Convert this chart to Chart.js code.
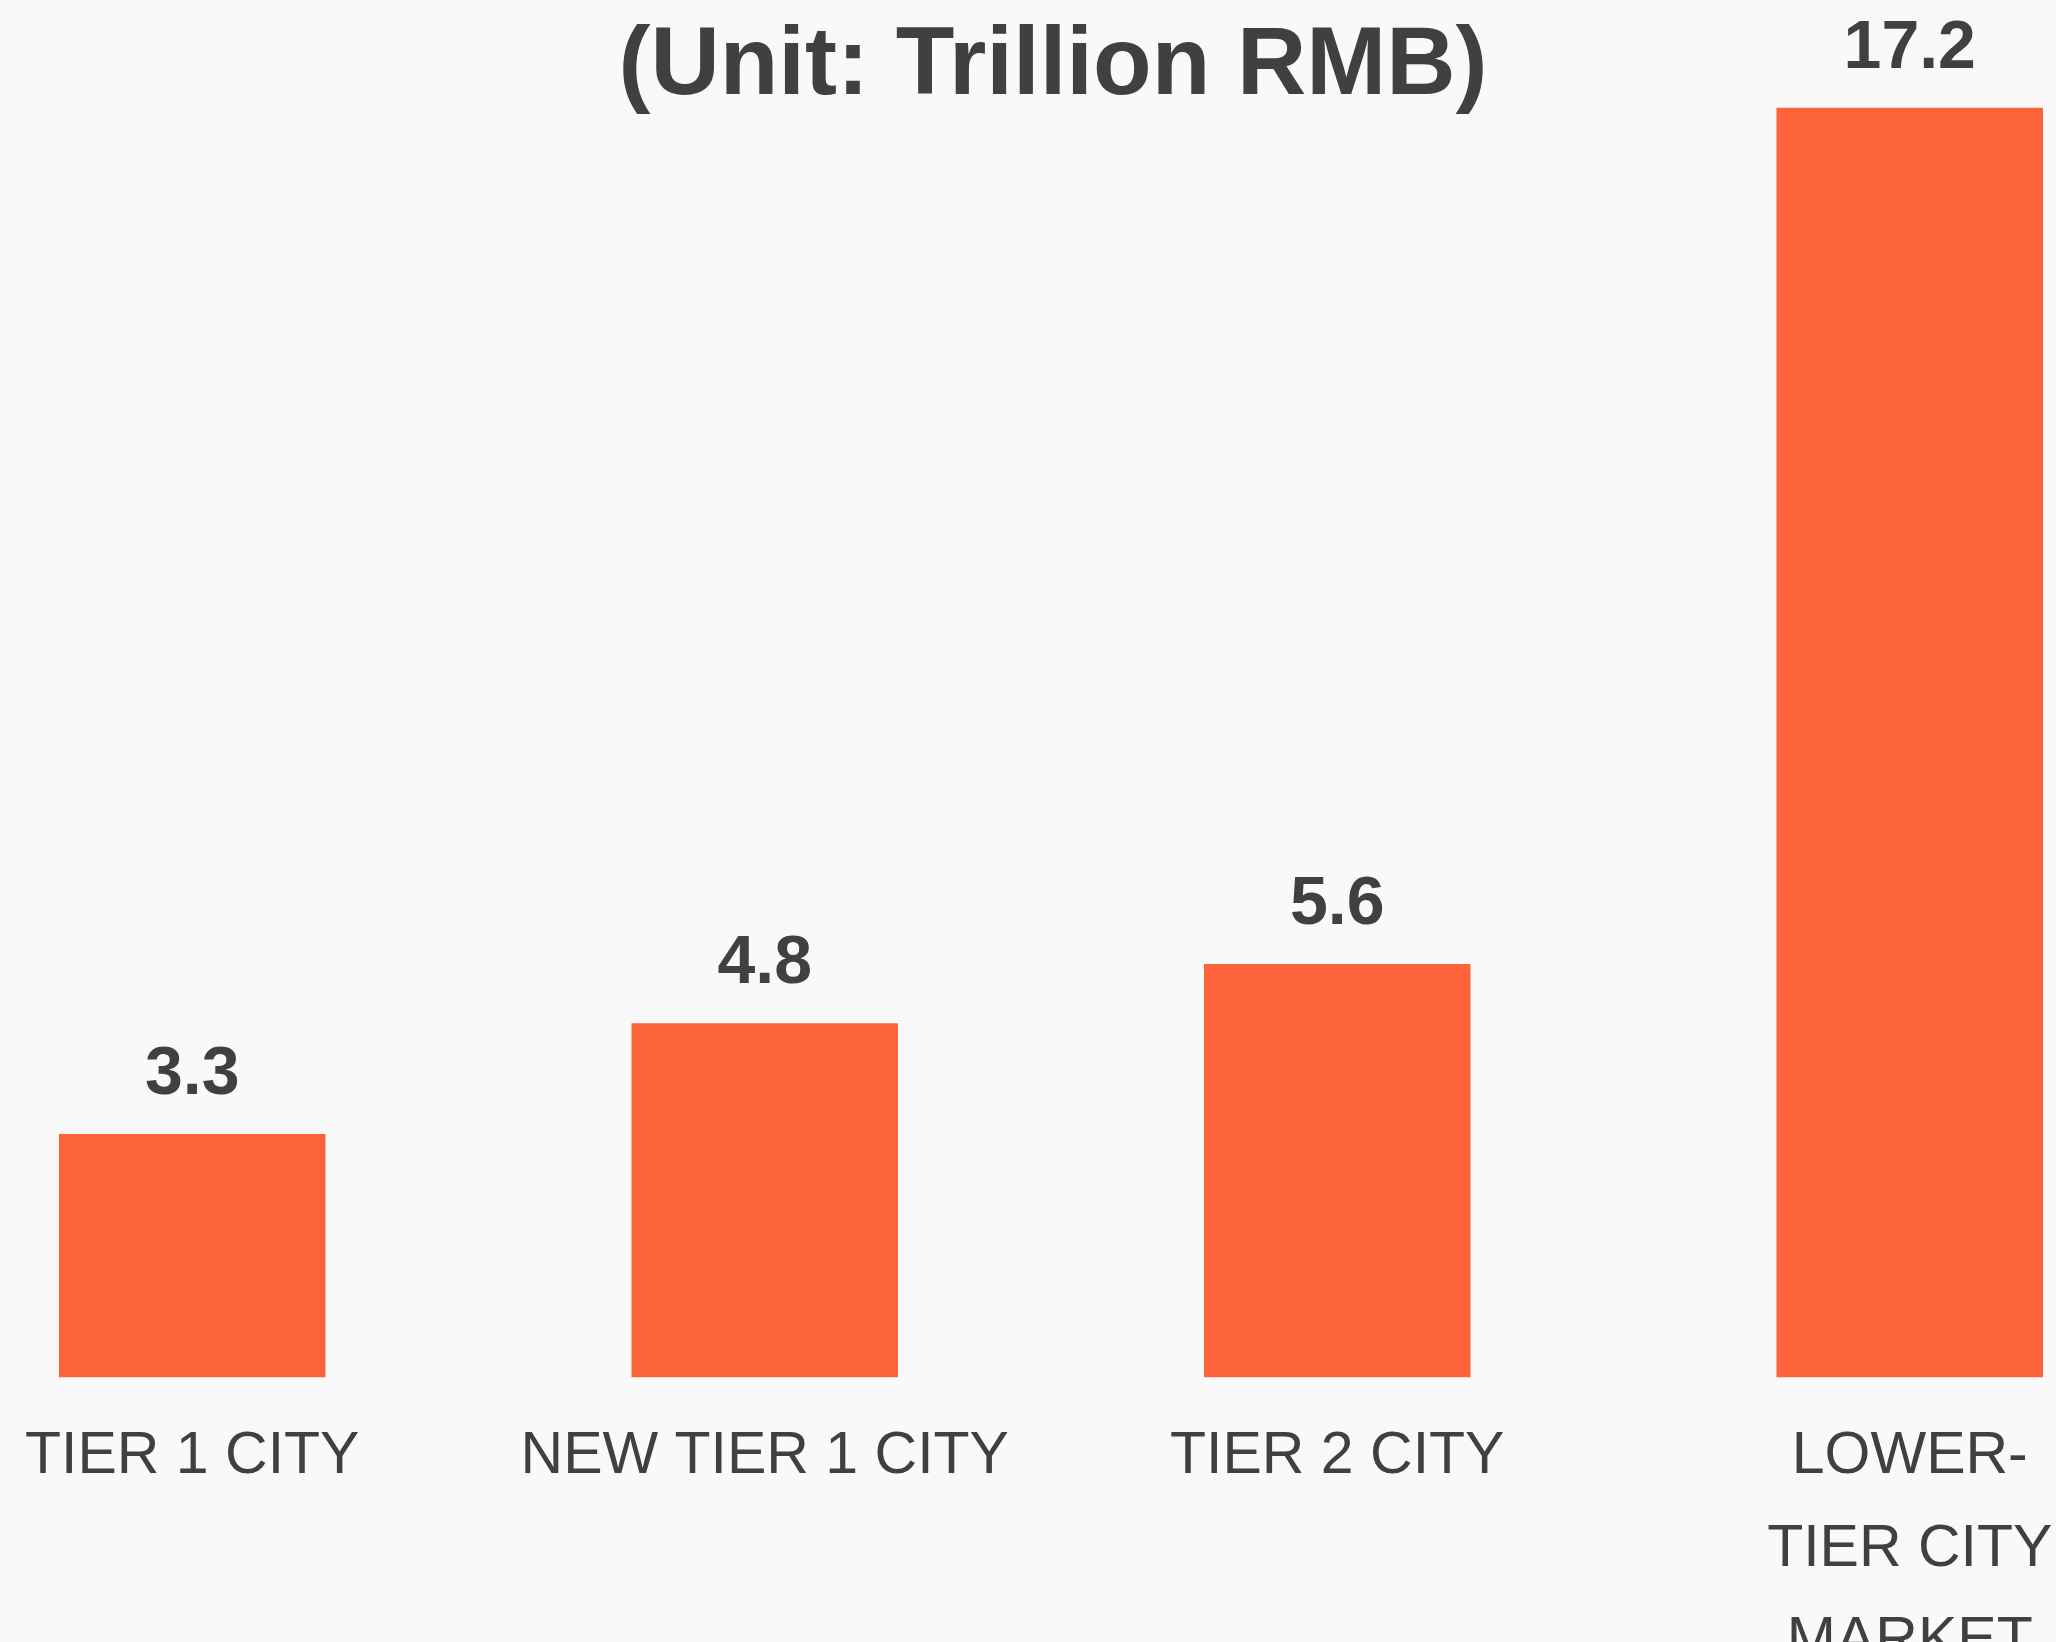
<!DOCTYPE html>
<html>
<head>
<meta charset="utf-8">
<script src="https://cdn.jsdelivr.net/npm/chart.js@4.4.1/dist/chart.umd.min.js"></script>
<style>
  html, body { margin: 0; padding: 0; background: #f9f9f9; width: 2056px; height: 1642px; overflow: hidden; }
  #wrap { position: absolute; left: -94px; top: 0; width: 2290px; height: 1642px; }
  #title { position: absolute; left: 1053px; top: 13px; transform: translateX(-50%); white-space: nowrap;
           font-family: "Liberation Sans", Arial, sans-serif; font-weight: bold; font-size: 96px; line-height: 96px; color: #404040; }
</style>
</head>
<body>
<div id="wrap"><canvas id="c" width="2290" height="1642"></canvas></div>
<div id="title">(Unit: Trillion RMB)</div>
<script>
const categories = ["TIER 1 CITY", "NEW TIER 1 CITY", "TIER 2 CITY", ["LOWER-", "TIER CITY", "MARKET"]];
const values = [3.3, 4.8, 5.6, 17.2];
const valueLabels = ["3.3", "4.8", "5.6", "17.2"];

const textColor = "#404040";
const barColor = "#fd6338";

const valueLabelPlugin = {
  id: "valueLabels",
  afterDatasetsDraw(chart) {
    const ctx = chart.ctx;
    const meta = chart.getDatasetMeta(0);
    ctx.save();
    ctx.font = "bold 68px 'Liberation Sans', Arial, sans-serif";
    ctx.fillStyle = textColor;
    ctx.textAlign = "center";
    ctx.textBaseline = "alphabetic";
    meta.data.forEach((bar, i) => {
      ctx.fillText(valueLabels[i], bar.x, bar.y - 40);
    });
    ctx.restore();
  }
};

new Chart(document.getElementById("c"), {
  type: "bar",
  data: {
    labels: categories,
    datasets: [{
      data: values,
      backgroundColor: barColor,
      borderWidth: 0,
      categoryPercentage: 1.0,
      barPercentage: 0.4655
    }]
  },
  options: {
    responsive: false,
    animation: false,
    devicePixelRatio: 1,
    layout: { padding: 0 },
    plugins: { legend: { display: false }, tooltip: { enabled: false }, title: { display: false } },
    scales: {
      x: {
        grid: { display: false, drawTicks: false },
        border: { display: false },
        ticks: {
          color: textColor,
          padding: 33,
          font: { family: "'Liberation Sans', Arial, sans-serif", size: 59, lineHeight: 1.57 },
          maxRotation: 0, minRotation: 0, autoSkip: false
        },
        afterFit(scale) { scale.height = 264.5; }
      },
      y: {
        display: false,
        min: 0,
        max: 18.66
      }
    }
  },
  plugins: [valueLabelPlugin]
});
</script>
</body>
</html>
